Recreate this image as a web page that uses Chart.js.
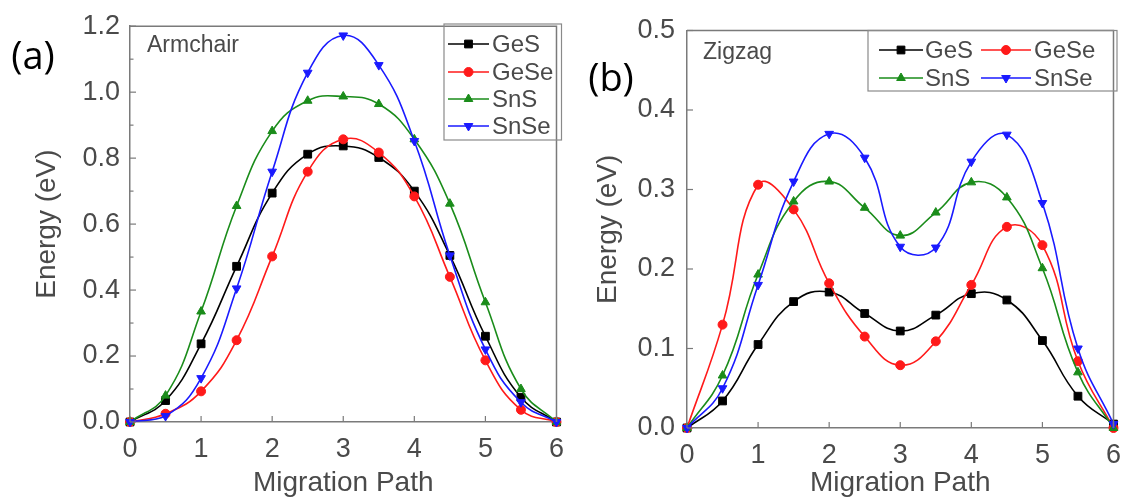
<!DOCTYPE html>
<html><head><meta charset="utf-8">
<script src="https://cdn.jsdelivr.net/npm/chart.js@4.4.1/dist/chart.umd.min.js"></script>
<style>
html,body{margin:0;padding:0;background:#fff;width:1132px;height:503px;overflow:hidden}
#wa{position:absolute;left:0;top:0;width:575px;height:503px}
#wb{position:absolute;left:575px;top:0;width:557px;height:503px}
canvas{display:block}
</style></head><body>
<div id="wa"><canvas id="ca" width="575" height="503" style="width:575px;height:503px"></canvas></div>
<div id="wb"><canvas id="cb" width="557" height="503" style="width:557px;height:503px"></canvas></div>
<script>
// ---- data ----
const seriesNames = ['GeS', 'GeSe', 'SnS', 'SnSe'];
const migrationPath = [0, 0.5, 1, 1.5, 2, 2.5, 3, 3.5, 4, 4.5, 5, 5.5, 6];
const xTicks = [0, 1, 2, 3, 4, 5, 6];

// (a) Armchair
const armGeS  = [0, 0.065, 0.237, 0.472, 0.694, 0.812, 0.837, 0.802, 0.700, 0.505, 0.260, 0.075, 0];
const armGeSe = [0, 0.025, 0.093, 0.248, 0.502, 0.759, 0.857, 0.817, 0.684, 0.440, 0.187, 0.037, 0];
const armSnS  = [0, 0.080, 0.335, 0.655, 0.882, 0.974, 0.987, 0.964, 0.857, 0.662, 0.363, 0.100, 0];
const armSnSe = [0, 0.018, 0.133, 0.405, 0.759, 1.059, 1.172, 1.082, 0.852, 0.505, 0.220, 0.060, 0];
const armYTicks = [0.0, 0.2, 0.4, 0.6, 0.8, 1.0, 1.2];

// (b) Zigzag
const zigGeS  = [0, 0.034, 0.105, 0.159, 0.171, 0.144, 0.122, 0.142, 0.169, 0.161, 0.110, 0.040, 0.005];
const zigGeSe = [0, 0.130, 0.306, 0.275, 0.182, 0.115, 0.079, 0.109, 0.180, 0.253, 0.230, 0.084, 0];
const zigSnS  = [0, 0.066, 0.193, 0.285, 0.310, 0.277, 0.242, 0.271, 0.309, 0.290, 0.201, 0.070, 0];
const zigSnSe = [0, 0.050, 0.180, 0.310, 0.370, 0.340, 0.228, 0.227, 0.335, 0.369, 0.283, 0.100, 0.005];
const zigYTicks = [0.0, 0.1, 0.2, 0.3, 0.4, 0.5];

// ---- styles ----
const FONT = "'Liberation Sans', Arial, sans-serif";
const TXT = '#4a4a4a';
const FRAME = '#7a7a7a';
const styles = [
  {color: '#000000', pointStyle: 'rect', radius: 5.5, rotation: 0},
  {color: '#ff1a1a', pointStyle: 'circle', radius: 4.5, rotation: 0},
  {color: '#1a8c1a', pointStyle: 'triangle', radius: 5, rotation: 0},
  {color: '#1a1aff', pointStyle: 'triangle', radius: 5, rotation: 180}
];

function makeDatasets(seriesList) {
  return seriesList.map((vals, i) => ({
    label: seriesNames[i],
    data: migrationPath.map((x, k) => ({x: x, y: vals[k]})),
    borderColor: styles[i].color,
    backgroundColor: styles[i].color,
    pointBackgroundColor: styles[i].color,
    pointBorderColor: styles[i].color,
    pointStyle: styles[i].pointStyle,
    pointRadius: styles[i].radius,
    pointRotation: styles[i].rotation,
    pointBorderWidth: 1,
    borderWidth: 1.6,
    tension: 0.45,
    clip: false,
    order: 4 - i
  }));
}

function drawMarker(ctx, st, x, y) {
  ctx.fillStyle = st.color; ctx.strokeStyle = st.color; ctx.lineWidth = 1;
  if (Chart.helpers && Chart.helpers.drawPoint) {
    Chart.helpers.drawPoint(ctx, {pointStyle: st.pointStyle, radius: st.radius, rotation: st.rotation, borderWidth: 1}, x, y);
  } else {
    ctx.beginPath(); ctx.arc(x, y, st.radius, 0, Math.PI * 2); ctx.fill();
  }
}

const decor = {
  id: 'decor',
  afterDraw(chart, args, o) {
    const {ctx, chartArea: ca, scales} = chart;
    ctx.save();
    // frame top/right
    ctx.strokeStyle = FRAME; ctx.lineWidth = 1.5;
    ctx.beginPath();
    ctx.moveTo(ca.left, ca.top); ctx.lineTo(ca.right, ca.top); ctx.lineTo(ca.right, ca.bottom);
    ctx.stroke();
    // inward ticks
    ctx.lineWidth = 1.2;
    const ys = scales.y, xs = scales.x;
    const yt = ys.ticks.map(t => t.value);
    yt.forEach((v, i) => {
      const p = ys.getPixelForValue(v);
      ctx.beginPath(); ctx.moveTo(ca.left, p); ctx.lineTo(ca.left + 6, p); ctx.stroke();
      if (o.yMinor && i < yt.length - 1) {
        const q = ys.getPixelForValue((v + yt[i + 1]) / 2);
        ctx.beginPath(); ctx.moveTo(ca.left, q); ctx.lineTo(ca.left + 3.5, q); ctx.stroke();
      }
    });
    xs.ticks.forEach(t => {
      const p = xs.getPixelForValue(t.value);
      ctx.beginPath(); ctx.moveTo(p, ca.bottom); ctx.lineTo(p, ca.bottom - 6); ctx.stroke();
    });
    // legend box
    const L = o.legend;
    ctx.strokeStyle = '#8a8a8a'; ctx.lineWidth = 1.2;
    ctx.strokeRect(L.box[0], L.box[1], L.box[2] - L.box[0], L.box[3] - L.box[1]);
    ctx.font = L.font; ctx.textBaseline = 'middle'; ctx.textAlign = 'left';
    chart.data.datasets.forEach((ds, i) => {
      const it = L.items[i];
      const st = styles[i];
      ctx.strokeStyle = st.color; ctx.lineWidth = 1.6;
      ctx.beginPath(); ctx.moveTo(it.x0, it.y); ctx.lineTo(it.x1, it.y); ctx.stroke();
      drawMarker(ctx, st, (it.x0 + it.x1) / 2, it.y);
      ctx.fillStyle = TXT;
      ctx.fillText(ds.label, it.tx, it.y + 1);
    });
    // texts
    (o.texts || []).forEach(t => {
      ctx.font = t.font; ctx.fillStyle = t.color; ctx.textAlign = t.align || 'left'; ctx.textBaseline = 'middle';
      ctx.fillText(t.text, t.x, t.y);
    });
    ctx.restore();
  }
};

function makeChart(canvasId, seriesList, yTicks, yMax, cfg) {
  return new Chart(document.getElementById(canvasId), {
    type: 'line',
    data: {datasets: makeDatasets(seriesList)},
    plugins: [decor],
    options: {
      responsive: false,
      animation: false,
      events: [],
      layout: {padding: cfg.padding},
      plugins: {
        legend: {display: false},
        tooltip: {enabled: false},
        decor: cfg.decor
      },
      scales: {
        x: {
          type: 'linear', min: xTicks[0], max: xTicks[xTicks.length - 1],
          afterFit: s => { s.height = cfg.xHeight; },
          afterBuildTicks: s => { s.ticks = xTicks.map(v => ({value: v})); },
          grid: {display: false, drawTicks: false},
          border: {display: true, color: FRAME, width: 1.5},
          ticks: {color: TXT, font: {family: FONT, size: 27}, padding: cfg.xTickPad, maxRotation: 0, autoSkip: false,
                  callback: v => String(v)},
          title: {display: true, text: 'Migration Path', color: TXT, font: {family: FONT, size: 28},
                  padding: {top: 0, bottom: cfg.xTitlePad}}
        },
        y: {
          type: 'linear', min: yTicks[0], max: yMax,
          afterFit: s => { s.width = cfg.yWidth; },
          afterBuildTicks: s => { s.ticks = yTicks.map(v => ({value: v})); },
          grid: {display: false, drawTicks: false},
          border: {display: true, color: FRAME, width: 1.5},
          ticks: {color: TXT, font: {family: FONT, size: 27}, padding: cfg.yTickPad, autoSkip: false,
                  callback: v => Number(v).toFixed(1)},
          title: {display: true, text: 'Energy (eV)', color: TXT, font: {family: FONT, size: 28},
                  padding: {top: cfg.yTitlePad, bottom: 0}}
        }
      }
    }
  });
}

makeChart('ca', [armGeS, armGeSe, armSnS, armSnSe], armYTicks, armYTicks[armYTicks.length - 1], {
  padding: {left: 0, top: 24, right: 13.5, bottom: 0},
  xHeight: 81, yWidth: 130, xTickPad: 11, yTickPad: 10, xTitlePad: 3, yTitlePad: 30,
  decor: {
    yMinor: true,
    legend: {
      box: [444, 24, 561.5, 140],
      font: "24px " + FONT,
      items: [
        {x0: 448, x1: 489, tx: 492, y: 44},
        {x0: 448, x1: 489, tx: 492, y: 72},
        {x0: 448, x1: 489, tx: 492, y: 99},
        {x0: 448, x1: 489, tx: 492, y: 126}
      ]
    },
    texts: [
      {text: 'Armchair', x: 147, y: 46, font: "23px " + FONT, color: TXT},
      {text: '(a)', x: 33, y: 58, font: "38px 'Open Sans', sans-serif", color: '#000', align: 'center'}
    ]
  }
});

makeChart('cb', [zigGeS, zigGeSe, zigSnS, zigSnSe], zigYTicks, zigYTicks[zigYTicks.length - 1], {
  padding: {left: 0, top: 30.5, right: 15, bottom: 0},
  xHeight: 75, yWidth: 112, xTickPad: 11, yTickPad: 12, xTitlePad: 3, yTitlePad: 16,
  decor: {
    yMinor: false,
    legend: {
      box: [293, 30.5, 542, 91],
      font: "24px " + FONT,
      items: [
        {x0: 304, x1: 348, tx: 350, y: 50},
        {x0: 406, x1: 456, tx: 459, y: 50},
        {x0: 304, x1: 348, tx: 350, y: 78},
        {x0: 406, x1: 456, tx: 459, y: 78}
      ]
    },
    texts: [
      {text: 'Zigzag', x: 128, y: 53, font: "23px " + FONT, color: TXT},
      {text: '(b)', x: 36, y: 80, font: "38px 'Open Sans', sans-serif", color: '#000', align: 'center'}
    ]
  }
});
</script>
</body></html>
